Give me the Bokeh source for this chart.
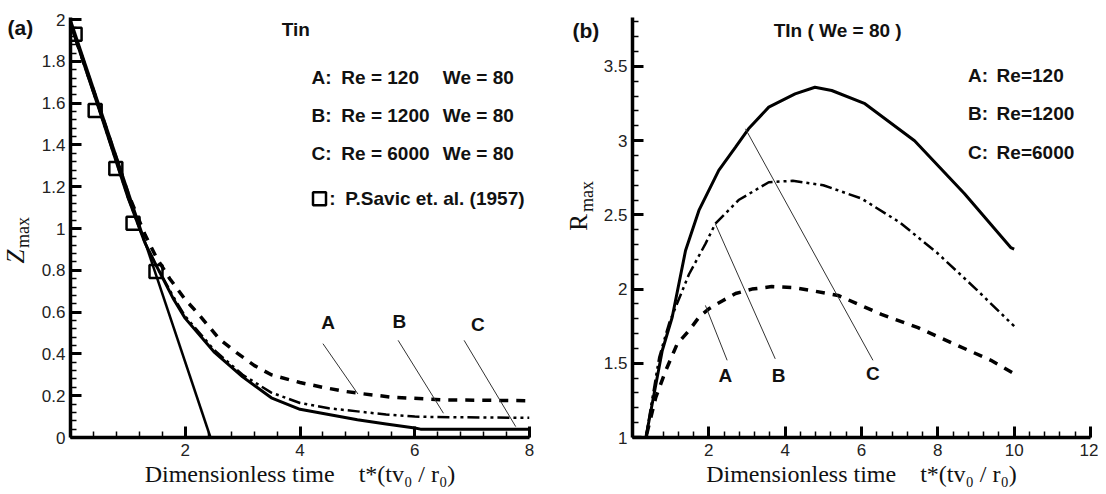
import math
from bokeh.plotting import figure
from bokeh.layouts import row
from bokeh.models import FixedTicker, CustomJSTickFormatter, Label, Range1d
from bokeh.embed import file_html
from bokeh.resources import INLINE

# ---------------- Panel (a): Z_max vs t* ----------------
savic_t = [0.08, 0.43, 0.79, 1.09, 1.49]
savic_z = [1.93, 1.565, 1.287, 1.025, 0.795]

fit_t = [0.0, 2.44]
fit_z = [2.0, 0.0]

a_t = [0.0, 0.5, 1.0, 1.3, 1.5, 1.73, 2.0, 2.2, 2.6, 2.9, 3.2, 3.5, 4.0, 4.4, 4.8, 5.1, 5.6, 6.5, 8.0]
a_z = [1.98, 1.58, 1.17, 0.97, 0.86, 0.76, 0.66, 0.60, 0.47, 0.405, 0.345, 0.30, 0.263, 0.24, 0.22, 0.209, 0.193, 0.18, 0.176]

b_t = [0.0, 0.5, 1.0, 1.3, 1.5, 1.8, 2.0, 2.5, 3.0, 3.5, 4.0, 4.5, 5.0, 5.5, 6.0, 6.6, 8.0]
b_z = [1.98, 1.57, 1.15, 0.93, 0.82, 0.67, 0.58, 0.42, 0.30, 0.215, 0.165, 0.14, 0.125, 0.11, 0.10, 0.097, 0.094]

c_t = [0.0, 0.5, 1.0, 1.3, 1.5, 1.8, 2.0, 2.5, 3.0, 3.5, 4.0, 4.5, 5.0, 5.5, 6.0, 6.1, 8.0, 8.0]
c_z = [1.98, 1.57, 1.15, 0.93, 0.82, 0.66, 0.57, 0.41, 0.29, 0.19, 0.135, 0.11, 0.085, 0.065, 0.045, 0.04, 0.04, 0.0]

xa_major = [2, 4, 6, 8]
ya_major = [round(0.2 * i, 1) for i in range(11)]

# ---------------- Panel (b): R_max vs t* ----------------
rc_t = [0.0, 0.35, 0.78, 1.04, 1.39, 1.74, 2.26, 2.70, 3.04, 3.57, 4.26, 4.78, 5.22, 6.09, 7.39, 8.70, 9.91, 10.0]
rc_r = [1.0, 1.0, 1.586, 1.81, 2.26, 2.53, 2.80, 2.956, 3.08, 3.226, 3.315, 3.36, 3.338, 3.249, 3.0, 2.642, 2.28, 2.27]

rb_t = [0.0, 0.35, 0.70, 0.96, 1.48, 1.91, 2.17, 2.78, 3.57, 4.2, 5.0, 6.0, 7.0, 8.0, 9.0, 10.0]
rb_r = [1.0, 1.0, 1.54, 1.77, 2.10, 2.305, 2.44, 2.60, 2.72, 2.73, 2.70, 2.61, 2.45, 2.24, 2.00, 1.75]

ra_t = [0.0, 0.35, 0.61, 0.87, 1.17, 1.48, 1.74, 2.0, 2.35, 2.70, 3.13, 3.65, 4.26, 4.78, 5.39, 6.52, 7.48, 8.43, 9.39, 10.0]
ra_r = [1.0, 1.0, 1.27, 1.45, 1.63, 1.72, 1.81, 1.867, 1.92, 1.97, 2.0, 2.017, 2.009, 1.986, 1.957, 1.83, 1.74, 1.63, 1.52, 1.43]

xb_major = [2, 4, 6, 8, 10, 12]
yb_major = [1, 1.5, 2, 2.5, 3, 3.5]

SANS = "Liberation Sans"
SERIF = "Liberation Serif"
H = 492
TOP = 17          # frame top (page px)
BOT = 437         # frame bottom (page px)
fmt = CustomJSTickFormatter(code="return Number(tick.toFixed(2)).toString();")
XLABEL = "Dimensionless time\u00a0\u00a0\u00a0\u00a0t*(tv\u2080 / r\u2080)"


def style_axes(p, xmaj, xmin, ymaj, ymin):
    p.xaxis.ticker = FixedTicker(ticks=xmaj, minor_ticks=xmin)
    p.yaxis.ticker = FixedTicker(ticks=ymaj, minor_ticks=ymin)
    for ax in (p.xaxis, p.yaxis):
        ax.formatter = fmt
        ax.axis_line_width = 3.5
        ax.axis_line_color = "black"
        ax.major_tick_in = 11
        ax.major_tick_out = 0
        ax.minor_tick_in = 6
        ax.minor_tick_out = 0
        ax.major_tick_line_width = 3
        ax.minor_tick_line_width = 1.5
        ax.major_tick_line_color = "black"
        ax.minor_tick_line_color = "black"
        ax.major_label_text_font = SANS
        ax.major_label_text_font_size = "17px"
        ax.major_label_text_color = "#222222"
    p.yaxis.major_label_standoff = 5
    p.xaxis.major_label_standoff = 6
    p.xaxis.axis_label = XLABEL
    p.xaxis.axis_label_text_font = SERIF
    p.xaxis.axis_label_text_font_size = "24px"
    p.xaxis.axis_label_text_font_style = "normal"
    p.xaxis.axis_label_text_color = "#111111"
    p.xaxis.axis_label_standoff = 2
    p.xgrid.visible = False
    p.ygrid.visible = False
    p.outline_line_color = None


def lab(p, x, y, text, size="19px", bold=True, align="left"):
    p.add_layout(Label(x=x, y=y, text=text, text_font=SANS, text_font_size=size,
                       text_font_style="bold" if bold else "normal", text_align=align,
                       text_baseline="middle", text_color="#111111"))


def side(x0, w):
    # narrow strip holding the panel tag and the rotated y-axis title;
    # its frame is aligned with the neighbouring plots, and its data
    # coordinates equal page pixels (x to the right, y = H - page_y)
    s = figure(width=w, height=H, x_range=Range1d(x0, x0 + w), y_range=Range1d(H - BOT, H - TOP),
               output_backend="svg", toolbar_location=None,
               x_axis_location=None, y_axis_location=None,
               min_border_left=0, min_border_right=0, min_border_top=TOP, min_border_bottom=H - BOT)
    s.xgrid.visible = False
    s.ygrid.visible = False
    s.outline_line_color = None
    return s


def rot(s, x, y, text, size, style="normal"):
    s.add_layout(Label(x=x, y=H - y, text=text, text_font=SERIF, text_font_size=size,
                       text_font_style=style, angle=math.pi / 2, text_align="center",
                       text_baseline="middle", text_color="#111111"))


def tag(s, x, y, text):
    s.add_layout(Label(x=x, y=H - y, text=text, text_font=SANS, text_font_size="21px",
                       text_font_style="bold", text_baseline="middle", text_color="#111111"))


# ---- strip left of (a)
sa = side(0, 38)
tag(sa, 7, 27, "(a)")
rot(sa, 15, 256, "Z", "25px", "italic")
rot(sa, 22, 232, "max", "18px")

# ---- figure (a)
p1 = figure(width=507, height=H, x_range=(0, 8), y_range=(0, 2.01),
            output_backend="svg", toolbar_location=None,
            min_border_left=30, min_border_right=16, min_border_top=TOP, min_border_bottom=H - BOT)
style_axes(p1, xa_major, [round(0.4 * i, 1) for i in range(21)],
           ya_major, [round(0.04 * i, 2) for i in range(51)])

p1.line(fit_t, fit_z, line_color="black", line_width=2.5)
p1.line(c_t, c_z, line_color="black", line_width=3)
p1.line(b_t, b_z, line_color="black", line_width=2.5, line_dash="12 4 3 4 3 4")
p1.line(a_t, a_z, line_color="black", line_width=3.5, line_dash="9 8")
p1.scatter(savic_t, savic_z, marker="square", size=13, fill_color=None,
           line_color="black", line_width=2.5)

for (x0, y0, x1, y1) in [(4.40, 0.449, 5.01, 0.208), (5.71, 0.465, 6.50, 0.116), (6.86, 0.465, 7.76, 0.052)]:
    p1.line([x0, x1], [y0, y1], line_color="#333333", line_width=1)
lab(p1, 4.49, 0.55, "A", align="center")
lab(p1, 5.73, 0.557, "B", align="center")
lab(p1, 7.1, 0.54, "C", align="center")

lab(p1, 3.68, 1.952, "Tin")
rows_a = [(1.724, "A:", "Re = 120", "We = 80"),
          (1.543, "B:", "Re = 1200", "We = 80"),
          (1.357, "C:", "Re = 6000", "We = 80")]
for yy, k, re_, we in rows_a:
    lab(p1, 4.2, yy, k)
    lab(p1, 4.72, yy, re_)
    lab(p1, 6.49, yy, we)
p1.scatter([4.34], [1.143], marker="square", size=13, fill_color=None,
           line_color="black", line_width=2.5)
lab(p1, 4.51, 1.143, ":")
lab(p1, 4.79, 1.143, "P.Savic et. al. (1957)")

# ---- strip left of (b)
sb = side(545, 55)
tag(sb, 572, 30, "(b)")
rot(sb, 578, 222, "R", "25px")
rot(sb, 586, 196, "max", "18px")

# ---- figure (b)
p2 = figure(width=498, height=H, x_range=(0, 12), y_range=(1, 3.83),
            output_backend="svg", toolbar_location=None,
            min_border_left=30, min_border_right=8, min_border_top=TOP, min_border_bottom=H - BOT)
style_axes(p2, xb_major, [round(0.4 * i, 1) for i in range(31)],
           yb_major, [round(1 + 0.1 * i, 1) for i in range(29)])

p2.line(rc_t, rc_r, line_color="black", line_width=3)
p2.line(rb_t, rb_r, line_color="black", line_width=2.5, line_dash="12 4 3 4 3 4")
p2.line(ra_t, ra_r, line_color="black", line_width=3.5, line_dash="9 8")

for (x0, y0, x1, y1) in [(1.91, 1.89, 2.48, 1.52), (2.17, 2.44, 3.74, 1.53), (2.96, 3.08, 6.30, 1.52)]:
    p2.line([x0, x1], [y0, y1], line_color="#333333", line_width=1)
lab(p2, 2.43, 1.42, "A", align="center")
lab(p2, 3.83, 1.42, "B", align="center")
lab(p2, 6.30, 1.43, "C", align="center")

lab(p2, 3.70, 3.743, "TIn ( We = 80 )")
for yy, k, re_ in [(3.44, "A:", "Re=120"), (3.183, "B:", "Re=1200"), (2.92, "C:", "Re=6000")]:
    lab(p2, 8.79, yy, k)
    lab(p2, 9.54, yy, re_)

layout = row(sa, p1, sb, p2)
open("out.html", "w").write(file_html(layout, INLINE))
